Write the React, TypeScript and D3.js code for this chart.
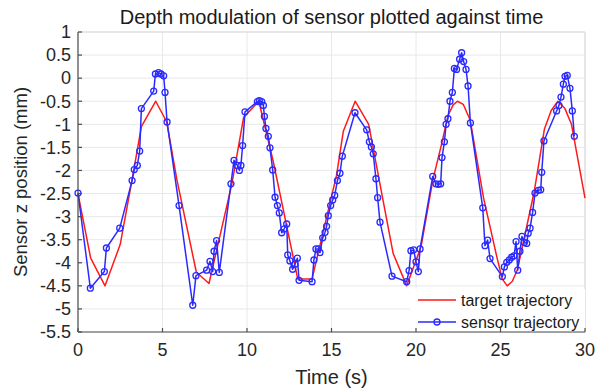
import { useEffect, useRef } from 'react';
import * as d3 from 'd3';

// target trajectory (red)
const targetTime = [0, 0.75, 1.6, 2.5, 3.2, 3.75, 4.6, 5.25, 5.85, 7.0, 7.75, 9.1, 9.8, 10.7, 11.55, 13.0, 13.85, 15.3, 15.7, 16.4, 17.2, 18.0, 18.65, 19.45, 20.3, 21.0, 21.5, 21.9, 22.2, 22.45, 22.8, 23.2, 24.0, 24.8, 25.1, 25.4, 25.7, 26.0, 27.0, 27.6, 28.0, 28.4, 28.8, 29.2, 30.0];
const targetDepth = [-2.5, -3.9, -4.5, -3.6, -2.2, -1.05, -0.5, -0.95, -2.2, -4.2, -4.45, -2.3, -0.85, -0.5, -1.8, -4.35, -4.35, -2.1, -1.15, -0.5, -1.0, -2.55, -3.8, -4.5, -3.65, -2.2, -1.45, -0.8, -0.58, -0.5, -0.57, -0.9, -2.6, -3.9, -4.35, -4.5, -4.4, -4.15, -2.45, -1.1, -0.7, -0.5, -0.65, -1.0, -2.6];

// sensor trajectory (blue, circles)
const sensorTime = [0, 0.73, 1.56, 1.68, 2.47, 3.2, 3.33, 3.51, 3.65, 3.75, 4.48, 4.58, 4.77, 4.91, 5.07, 5.15, 5.27, 5.98, 6.79, 6.98, 7.61, 7.81, 7.97, 8.05, 8.2, 8.36, 9.05, 9.23, 9.43, 9.55, 9.64, 9.74, 9.88, 10.61, 10.73, 10.87, 10.97, 11.03, 11.12, 11.26, 11.36, 11.52, 11.66, 11.8, 11.91, 12.05, 12.19, 12.35, 12.41, 12.54, 12.7, 12.84, 12.98, 13.08, 13.85, 13.96, 14.08, 14.22, 14.32, 14.48, 14.62, 14.71, 14.81, 14.95, 15.07, 15.19, 15.35, 15.5, 15.64, 16.39, 17.08, 17.24, 17.36, 17.47, 17.63, 17.73, 17.87, 18.58, 19.45, 19.59, 19.7, 19.86, 20.0, 20.14, 20.24, 20.99, 21.18, 21.32, 21.46, 21.54, 21.68, 21.78, 21.89, 22.01, 22.15, 22.27, 22.4, 22.58, 22.7, 22.82, 22.96, 23.08, 23.22, 23.95, 24.08, 24.24, 24.38, 25.11, 25.23, 25.37, 25.52, 25.66, 25.8, 25.92, 26.02, 26.15, 26.27, 26.41, 26.55, 26.64, 26.75, 26.9, 27.04, 27.24, 27.38, 27.44, 27.57, 28.32, 28.46, 28.58, 28.72, 28.82, 28.95, 29.11, 29.25, 29.37];
const sensorDepth = [-2.49, -4.55, -4.19, -3.68, -3.25, -2.22, -1.98, -1.89, -1.58, -0.66, -0.28, 0.09, 0.12, 0.09, 0.05, -0.31, -0.95, -2.76, -4.92, -4.28, -4.16, -3.97, -4.19, -3.75, -3.52, -4.21, -2.29, -1.78, -1.89, -2.0, -1.89, -1.46, -0.73, -0.51, -0.49, -0.51, -0.59, -0.83, -1.09, -1.26, -1.51, -1.99, -2.58, -2.76, -2.92, -3.35, -3.27, -3.16, -3.83, -3.96, -4.14, -4.03, -3.9, -4.38, -4.41, -3.94, -3.7, -3.7, -3.78, -3.46, -3.34, -3.21, -2.98, -2.76, -2.64, -2.54, -2.22, -2.06, -1.69, -0.75, -1.12, -1.38, -1.49, -1.64, -2.18, -2.59, -3.12, -4.29, -4.41, -4.17, -3.74, -3.72, -3.98, -4.19, -3.7, -2.13, -2.29, -2.3, -2.29, -1.72, -1.38, -1.0, -0.88, -0.5, -0.31, 0.21, 0.19, 0.41, 0.55, 0.36, 0.19, -0.17, -0.97, -2.81, -3.63, -3.51, -3.91, -4.3, -4.09, -3.99, -3.94, -3.88, -3.85, -3.54, -4.16, -3.75, -3.43, -3.56, -3.58, -3.36, -3.25, -2.91, -2.49, -2.43, -2.42, -2.04, -1.36, -0.71, -0.59, -0.41, -0.13, 0.04, 0.06, -0.22, -0.71, -1.26];

const xTicks = [0, 5, 10, 15, 20, 25, 30];
const yTicks = [1, 0.5, 0, -0.5, -1, -1.5, -2, -2.5, -3, -3.5, -4, -4.5, -5, -5.5];
const legendLabels = ['target trajectory', 'sensor trajectory'];

export default function App() {
  const svgRef = useRef<SVGSVGElement>(null);
  const width = 603;
  const height = 390;

  useEffect(() => {
    const svg = d3.select(svgRef.current);
    svg.selectAll('*').remove();

    const margin = { top: 32, right: 18, bottom: 58, left: 78 };
    const x0 = margin.left, x1 = width - margin.right;
    const y0 = height - margin.bottom, y1 = margin.top;
    const font = 'Liberation Sans, Arial, Helvetica, sans-serif';
    const textColor = '#262626';

    const x = d3.scaleLinear().domain([0, 30]).range([x0, x1]);
    const y = d3.scaleLinear().domain([-5.5, 1]).range([y0, y1]);

    svg.append('rect').attr('width', width).attr('height', height).attr('fill', 'white');

    // grid
    const grid = svg.append('g').attr('stroke', '#e8e8e8').attr('stroke-width', 1);
    xTicks.forEach(t => grid.append('line').attr('x1', x(t)).attr('x2', x(t)).attr('y1', y1).attr('y2', y0));
    yTicks.forEach(t => grid.append('line').attr('x1', x0).attr('x2', x1).attr('y1', y(t)).attr('y2', y(t)));

    // box top/right
    svg.append('path')
      .attr('d', `M${x0},${y1}H${x1}V${y0}`)
      .attr('fill', 'none')
      .attr('stroke', '#d9d9d9');

    const target = targetTime.map((t, i) => [t, targetDepth[i]] as [number, number]);
    const sensor = sensorTime.map((t, i) => [t, sensorDepth[i]] as [number, number]);
    const line = d3.line<[number, number]>().x(d => x(d[0])).y(d => y(d[1]));

    svg.append('path')
      .datum(target)
      .attr('fill', 'none')
      .attr('stroke', '#ff1a1a')
      .attr('stroke-width', 1.5)
      .attr('stroke-linejoin', 'round')
      .attr('d', line);

    svg.append('path')
      .datum(sensor)
      .attr('fill', 'none')
      .attr('stroke', '#2a2aff')
      .attr('stroke-width', 1.5)
      .attr('stroke-linejoin', 'round')
      .attr('d', line);

    svg.append('g').selectAll('circle')
      .data(sensor)
      .enter()
      .append('circle')
      .attr('cx', d => x(d[0]))
      .attr('cy', d => y(d[1]))
      .attr('r', 3)
      .attr('fill', 'none')
      .attr('stroke', '#2a2aff')
      .attr('stroke-width', 1.3);

    // legend
    const lg = svg.append('g');
    lg.append('rect')
      .attr('x', 410).attr('y', 289)
      .attr('width', x1 - 410).attr('height', y0 - 289)
      .attr('fill', 'white');
    const rows = [300, 322];
    const colors = ['#ff1a1a', '#2a2aff'];
    legendLabels.forEach((label, i) => {
      lg.append('line')
        .attr('x1', 418).attr('x2', 456)
        .attr('y1', rows[i]).attr('y2', rows[i])
        .attr('stroke', colors[i]).attr('stroke-width', 1.5);
      if (i === 1) {
        lg.append('circle')
          .attr('cx', 437).attr('cy', rows[i]).attr('r', 3)
          .attr('fill', 'none').attr('stroke', colors[i]).attr('stroke-width', 1.3);
      }
      lg.append('text')
        .attr('x', 461).attr('y', rows[i])
        .attr('dy', '0.35em')
        .attr('font-family', font)
        .attr('font-size', 16)
        .attr('fill', '#1a1a1a')
        .text(label);
    });

    // axes
    const axis = svg.append('g').attr('stroke', '#4d4d4d').attr('stroke-width', 1.2);
    axis.append('line').attr('x1', x0).attr('x2', x1).attr('y1', y0).attr('y2', y0);
    axis.append('line').attr('x1', x0).attr('x2', x0).attr('y1', y0).attr('y2', y1);
    xTicks.forEach(t => axis.append('line').attr('x1', x(t)).attr('x2', x(t)).attr('y1', y0).attr('y2', y0 - 4));
    yTicks.forEach(t => axis.append('line').attr('x1', x0).attr('x2', x0 + 4).attr('y1', y(t)).attr('y2', y(t)));

    svg.append('g').selectAll('text')
      .data(xTicks)
      .enter()
      .append('text')
      .attr('x', d => x(d))
      .attr('y', y0 + 24)
      .attr('text-anchor', 'middle')
      .attr('font-family', font)
      .attr('font-size', 18)
      .attr('fill', textColor)
      .text(d => String(d));

    svg.append('g').selectAll('text')
      .data(yTicks)
      .enter()
      .append('text')
      .attr('x', x0 - 7)
      .attr('y', d => y(d))
      .attr('dy', '0.35em')
      .attr('text-anchor', 'end')
      .attr('font-family', font)
      .attr('font-size', 18)
      .attr('fill', textColor)
      .text(d => String(d));

    // labels
    svg.append('text')
      .attr('x', (x0 + x1) / 2)
      .attr('y', y0 + 52)
      .attr('text-anchor', 'middle')
      .attr('font-family', font)
      .attr('font-size', 20)
      .attr('fill', textColor)
      .text('Time (s)');

    svg.append('text')
      .attr('transform', `translate(27,${(y0 + y1) / 2}) rotate(-90)`)
      .attr('text-anchor', 'middle')
      .attr('font-family', font)
      .attr('font-size', 18.5)
      .attr('fill', textColor)
      .text('Sensor z position (mm)');

    svg.append('text')
      .attr('x', (x0 + x1) / 2)
      .attr('y', 24)
      .attr('text-anchor', 'middle')
      .attr('font-family', font)
      .attr('font-size', 20)
      .attr('fill', '#1a1a1a')
      .text('Depth modulation of sensor plotted against time');
  }, []);

  return (
    <svg
      ref={svgRef}
      width={width}
      height={height}
      style={{ position: 'absolute', left: 0, top: 0, display: 'block' }}
    />
  );
}
